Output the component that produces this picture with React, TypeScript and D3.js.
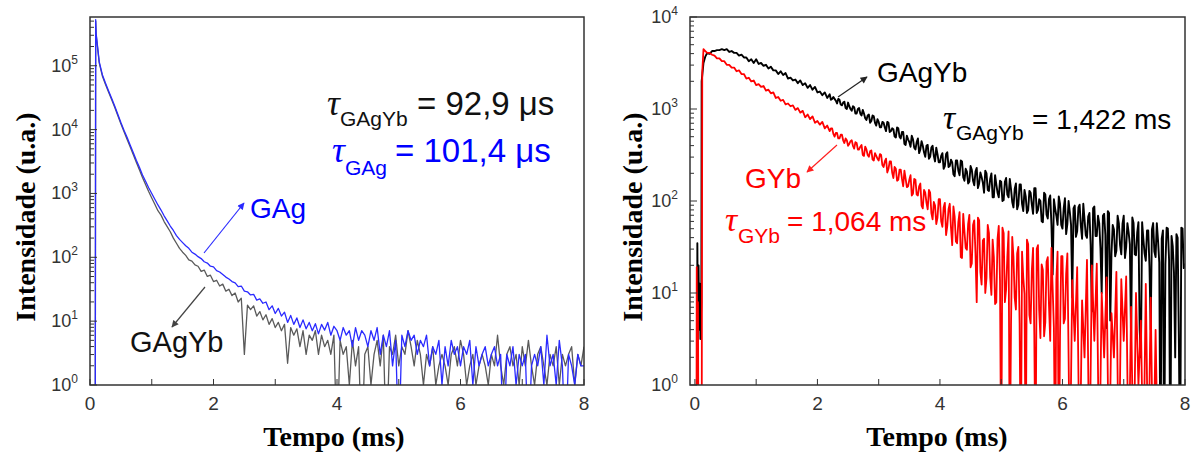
import React from "react";
import * as d3 from "d3";

// ---------- DATA (log10 of intensity) ----------
// Left panel: GAg (blue) and GAgYb (grey); grid starts at 0.10 ms, step 0.05 ms
const leftT0 = 0.1;
const leftStep = 0.05;
const gagHead: [number, number][] = [[0.085, -1], [0.092, 5.72]];
const gagLog = [
  5.50, 5.06, 4.86, 4.73, 4.61, 4.49, 4.37, 4.24, 4.11, 3.99, 3.88, 3.76, 3.64, 3.52, 3.41, 3.29, 3.19, 3.09,
  3.00, 2.91, 2.82, 2.74, 2.65, 2.57, 2.49, 2.42, 2.34, 2.28, 2.23, 2.18, 2.14, 2.08, 2.05, 2.01, 1.98, 1.93, 1.91, 1.86,
  1.85, 1.79, 1.77, 1.73, 1.69, 1.66, 1.62, 1.60, 1.54, 1.55, 1.47, 1.46, 1.41, 1.42, 1.33, 1.35, 1.28, 1.30, 1.18, 1.24,
  1.12, 1.20, 1.08, 1.14, 0.98, 1.09, 0.95, 1.05, 0.90, 1.02, 0.88, 0.98, 0.85, 0.96, 0.80, 0.95, 0.86, 0.98, 0.78, 0.92,
  0.85, 0.70, 0.90, 0.78, 0.85, 0.60, 0.90, 0.70, 0.85, 0.78, 0.60, 0.85, 0.70, 0.90, 0.48, 0.78, 0.60, 0.85, 0.30, 0.70,
  -1, 0.78, 0.60, 0.85, 0.70, 0.78, 0.48, 0.70, 0.60, 0.78, 0.30, 0.60, 0.48, 0.70, 0.00, 0.60, 0.30, 0.70, 0.48, 0.60,
  0.30, 0.60, 0.48, 0.70, 0.00, 0.60, 0.30, 0.48, 0.60, 0.30, 0.48, 0.60, 0.30, 0.48, -1, 0.48, 0.30, 0.60, 0.00, 0.48,
  0.30, 0.48, -1, 0.30, 0.48, 0.30, 0.60, 0.00, 0.78, 0.30, 0.48, 0.00, 0.70, 0.30, -1, 0.48, 0.30, 0.00, 0.48, 0.30,
  0.30,
];
const gagybLeftHead: [number, number][] = [[0.085, -1], [0.092, 5.70]];
const gagybLeftLog = [
  5.48, 5.04, 4.84, 4.71, 4.59, 4.47, 4.35, 4.22, 4.09, 3.97, 3.85, 3.73, 3.61, 3.49, 3.37, 3.25, 3.14, 3.03,
  2.93, 2.83, 2.73, 2.66, 2.56, 2.48, 2.40, 2.30, 2.22, 2.14, 2.08, 2.03, 1.96, 1.94, 1.88, 1.86, 1.78, 1.80, 1.70, 1.72,
  1.62, 1.64, 1.55, 1.58, 1.47, 1.50, 1.40, 1.44, 1.30, 1.36, 0.48, 1.25, 1.18, 1.24, 1.08, 1.15, 1.02, 1.10, 0.95, 1.04,
  0.90, 0.98, 0.85, 0.95, 0.34, 0.90, 0.78, 0.88, 0.60, 0.85, 0.48, 0.78, 0.70, 0.85, 0.48, 0.78, 0.60, 0.70, 0.48, 0.78,
  -1, 0.70, 0.48, 0.60, 0.00, 0.70, 0.30, 0.60, -1, 0.48, 0.60, 0.00, 0.48, 0.70, 0.30, 0.78, -1, 0.60, 0.48, 0.78,
  0.30, 0.60, 0.48, 0.85, 0.60, 0.30, 0.70, 0.48, 0.00, 0.48, 0.30, 0.60, 0.00, 0.30, 0.48, 0.30, 0.00, 0.48, 0.60, 0.30,
  0.70, 0.48, 0.00, 0.30, 0.48, 0.00, 0.30, 0.48, 0.30, 0.00, 0.48, 0.30, 0.78, 0.30, 0.00, 0.48, 0.60, 0.30, 0.48, 0.00,
  0.60, 0.30, 0.70, 0.30, 0.00, 0.48, 0.60, 0.30, 0.00, 0.48, 0.30, 0.60, 0.00, 0.48, 0.30, 0.48, 0.60, 0.00, 0.48, 0.30,
  0.60,
];

// Right panel: GAgYb (black) and GYb (red); main grid starts at 0.20 ms, step 0.04 ms;
// extra readings in the noisy part sit between grid points (start 2.22 ms, same step)
const rightT0 = 0.2;
const rightStep = 0.04;
const rightMidT0 = 2.22;
const gagybRightHead: [number, number][] = [
  [0.0, -1], [0.035, -1], [0.04, 1.54], [0.05, 0.49], [0.06, 1.3], [0.07, 0.6], [0.08, 1.1],
  [0.09, 0.5], [0.105, 0.9], [0.11, 3.3], [0.14, 3.5], [0.17, 3.57],
];
const gagybRightLog = [
  3.61, 3.60, 3.63, 3.63, 3.64, 3.64, 3.65, 3.64, 3.65, 3.62, 3.63, 3.61, 3.61, 3.58, 3.59, 3.56, 3.56, 3.52, 3.54, 3.50,
  3.54, 3.49, 3.50, 3.47, 3.48, 3.44, 3.46, 3.42, 3.42, 3.38, 3.41, 3.37, 3.39, 3.33, 3.34, 3.31, 3.32, 3.28, 3.31, 3.26,
  3.28, 3.23, 3.26, 3.21, 3.24, 3.18, 3.19, 3.15, 3.18, 3.12, 3.16, 3.11, 3.11, 3.06, 3.10, 3.04, 3.08, 3.00, 3.03, 2.98,
  3.02, 2.95, 3.01, 2.93, 2.95, 2.88, 2.94, 2.87, 2.92, 2.82, 2.86, 2.80, 2.85, 2.76, 2.85, 2.76, 2.78, 2.69, 2.79, 2.68,
  2.75, 2.61, 2.67, 2.59, 2.67, 2.56, 2.68, 2.56, 2.60, 2.48, 2.61, 2.48, 2.60, 2.43, 2.51, 2.42, 2.52, 2.38, 2.53, 2.38,
  2.42, 2.27, 2.44, 2.28, 2.43, 2.22, 2.32, 2.21, 2.34, 2.17, 2.36, 2.19, 2.26, 2.09, 2.30, 2.11, 2.30, 2.04, 2.18, 2.04,
  2.21, 2.01, 2.25, 2.04, 2.13, 1.93, 2.19, 1.96, 2.18, 1.89, 2.05, 1.90, 2.09, 1.86, 2.14, 1.90, 2.00, 1.77, 2.07, 1.81,
  2.06, 1.20, 1.92, 1.74, 1.97, 1.70, 2.03, 1.75, 1.88, 0.95, 1.95, 1.67, 1.96, 1.59, 1.80, 1.60, 1.87, 0.80, 1.94, 1.62,
  1.76, 1.00, 1.86, 0.62, 1.87, 1.43, 1.69, 1.46, 1.76, 1.42, 1.84, 1.50, 1.66, 0.48, 1.76, 1.41, 1.77, 0.30, 1.59, 1.35,
  1.68, 0.60, 1.76, 1.39, 1.57, -1, 1.68, 1.31, 1.70, -1, 1.51, 0.30, 1.60, -1, 1.70, 1.32,
];
const gagybRightMidLog = [
  3.10, 3.13, 3.09, 3.11, 3.05, 3.07, 3.01, 3.07, 3.00, 3.03,
  2.95, 3.00, 2.95, 2.99, 2.90, 2.93, 2.85, 2.93, 2.85, 2.89,
  2.80, 2.86, 2.80, 2.86, 2.75, 2.79, 2.70, 2.80, 2.70, 2.75,
  2.62, 2.71, 2.64, 2.71, 2.58, 2.64, 2.52, 2.65, 2.53, 2.60,
  2.46, 2.58, 2.49, 2.58, 2.42, 2.49, 2.35, 2.51, 2.37, 2.45,
  2.29, 2.44, 2.33, 2.44, 2.26, 2.35, 2.19, 2.38, 2.22, 2.32,
  2.14, 2.31, 2.20, 2.33, 2.12, 2.24, 2.04, 2.28, 2.09, 2.22,
  2.00, 2.21, 2.07, 2.24, 1.99, 2.13, 1.91, 2.18, 1.97, 2.12,
  1.87, 2.11, 1.96, 2.14, 1.87, 2.02, 1.78, 2.09, 1.85, 2.02,
  1.74, 2.02, 1.84, 2.05, 1.74, 1.92, 1.64, 2.00, 1.74, 1.92,
  1.61, 1.93, 1.73, 1.97, 1.63, 1.83, 1.52, 1.92, 1.62, 1.84,
  1.49, 1.84, 1.63, 1.89, 0.70, 1.74, 1.40, 1.84, 1.52, 1.75,
  1.38, 1.76, 1.53, 1.82, 1.42, 1.66, 0.60, 1.77, 1.43, 1.68,
  1.29, 1.69, 1.45, 1.76, 1.33, 1.59, -1, 1.71, 1.36, 1.62,
  1.22, 1.64, 0.48, 1.71, 1.27,
];
const gybHead: [number, number][] = [
  [0.0, -1], [0.025, -1], [0.03, 1.28], [0.04, 0.3], [0.05, 0.9], [0.06, -1], [0.11, -1],
  [0.12, 3.4], [0.14, 3.65], [0.17, 3.63],
];
const gybLog = [
  3.61, 3.61, 3.59, 3.58, 3.55, 3.55, 3.52, 3.52, 3.48, 3.48, 3.45, 3.45, 3.41, 3.42, 3.38, 3.38, 3.33, 3.34, 3.30, 3.31,
  3.26, 3.27, 3.24, 3.25, 3.20, 3.21, 3.17, 3.18, 3.12, 3.13, 3.09, 3.10, 3.05, 3.06, 3.03, 3.04, 2.99, 3.01, 2.96, 2.98,
  2.91, 2.94, 2.89, 2.92, 2.85, 2.87, 2.83, 2.86, 2.79, 2.82, 2.76, 2.79, 2.70, 2.74, 2.68, 2.72, 2.63, 2.66, 2.62, 2.66,
  2.57, 2.63, 2.56, 2.61, 2.49, 2.56, 2.48, 2.55, 2.44, 2.49, 2.44, 2.50, 2.37, 2.46, 2.35, 2.43, 2.25, 2.35, 2.23, 2.34,
  2.16, 2.24, 2.16, 2.28, 2.08, 2.23, 2.06, 2.19, 1.92, 2.09, 1.91, 2.09, 1.80, 1.95, 1.82, 2.02, 1.72, 1.98, 1.73, 1.97,
  1.52, 1.83, 1.54, 1.88, 1.38, 1.67, 1.47, 1.85, 1.32, 1.79, 0.90, 1.79, 1.09, 1.59, 1.16, 1.65, 0.98, 1.39, 0.90, 1.73,
  -1, 1.65, 1.04, 1.67, 0.65, 1.39, 0.82, 1.50, -1, 1.17, -1, 1.53, 0.67, 1.49, -1, 1.52, 0.51, 1.25, 0.68, 1.39,
  0.48, 1.05, -1, 1.45, 0.53, 1.40, 0.72, 1.43, -1, 1.14, 0.48, 1.28, -1, 0.92, 0.30, 1.36, -1, 1.30, 0.48, 1.32,
  -1, 1.00, 0.30, 1.17, -1, 0.78, 0.30, 1.23, -1, 1.15, 0.48, 1.18, -1, 0.85, -1, 1.00, 0.00, 0.70, -1, 1.10,
  -1, 0.95, -1, 0.60, -1, -1, -1, -1, -1, -1, -1, -1, -1, -1, -1, -1,
];
const gybMidLog = [
  2.79, 2.73, 2.74, 2.68, 2.72, 2.66, 2.68, 2.60, 2.65, 2.60,
  2.64, 2.56, 2.59, 2.50, 2.59, 2.50, 2.54, 2.45, 2.52, 2.46,
  2.51, 2.39, 2.43, 2.31, 2.43, 2.31, 2.37, 2.22, 2.34, 2.24,
  2.33, 2.15, 2.23, 2.06, 2.24, 2.07, 2.16, 1.95, 2.12, 1.98,
  2.12, 1.87, 1.99, 1.75, 2.02, 1.78, 1.93, 1.63, 1.91, 1.71,
  1.94, 1.56, 1.77, 1.39, 1.86, 1.49, 1.75, 1.28, 1.74, 1.43,
  1.82, 1.23, 1.57, 1.00, 1.74, 1.17, 1.58, 0.88, 1.59, 1.14,
  1.71, 0.90, 1.39, -1, 1.61, 0.95, 1.43, 0.67, 1.45, 0.99,
  1.58, 0.76, 1.25, 0.54, 1.48, 0.81, 1.31, 0.53, 1.34, 0.86,
  1.49, 0.62, 1.15, -1, 1.40, 0.67, 1.21, 0.30,
];

// Axes
const xTickValues = [0, 1, 2, 3, 4, 5, 6, 7, 8];
const xTickLabels = [0, 2, 4, 6, 8];
const leftYDomain: [number, number] = [1, 5.8e5];
const rightYDomain: [number, number] = [1, 1e4];
const leftXDomain: [number, number] = [0, 8];
const rightXDomain: [number, number] = [-0.08, 8];
const xTitle = "Tempo (ms)";
const yTitle = "Intensidade (u.a.)";

// ---------- helpers ----------
type Pt = { t: number; v: number };
function buildSeries(
  head: [number, number][], t0: number, step: number, logs: number[],
  midT0?: number, midLogs?: number[]
): Pt[] {
  const a: Pt[] = head.map(([t, l]) => ({ t, v: Math.pow(10, l) }));
  logs.forEach((l, i) => a.push({ t: t0 + i * step, v: Math.pow(10, l) }));
  if (midLogs && midT0 !== undefined) {
    midLogs.forEach((l, i) => a.push({ t: midT0 + i * step, v: Math.pow(10, l) }));
  }
  return a.sort((p, q) => p.t - q.t);
}

const SANS = "'Liberation Sans', Arial, Helvetica, sans-serif";
const SERIF = "'Liberation Serif', 'Times New Roman', Times, serif";

type LineSpec = { data: Pt[]; color: string; width: number };

function Panel(props: {
  id: string;
  left: number; right: number; top: number; bottom: number;
  xDom: [number, number]; yDom: [number, number];
  lines: LineSpec[];
  yTitleX: number; xTitleX: number;
}) {
  const { id, left, right, top, bottom, xDom, yDom, lines } = props;
  const x = d3.scaleLinear().domain(xDom).range([left, right]);
  const y = d3.scaleLog().domain(yDom).range([bottom, top]);
  const line = d3.line<Pt>().x((d) => x(d.t)).y((d) => y(d.v));
  const yTicks = y.ticks().filter((v) => v >= yDom[0] && v <= yDom[1]);
  const isMajor = (v: number) => Math.abs(Math.log10(v) - Math.round(Math.log10(v))) < 1e-9;
  return (
    <g>
      <defs>
        <clipPath id={`clip-${id}`}>
          <rect x={left} y={top} width={right - left} height={bottom - top} />
        </clipPath>
      </defs>
      <g clipPath={`url(#clip-${id})`}>
        {lines.map((l, i) => (
          <path key={i} d={line(l.data) || ""} fill="none" stroke={l.color} strokeWidth={l.width} strokeLinejoin="round" />
        ))}
      </g>
      {yTicks.map((v, i) => (
        <line key={`yt${i}`} x1={left} x2={left + (isMajor(v) ? 7 : 4)} y1={y(v)} y2={y(v)} stroke="#333" strokeWidth={1} />
      ))}
      {yTicks.filter(isMajor).map((v, i) => (
        <text key={`yl${i}`} x={left - 12} y={y(v) + 6} textAnchor="end" fontFamily={SANS} fontSize={18} fill="#333">
          10<tspan dy={-8} fontSize={12}>{Math.round(Math.log10(v))}</tspan>
        </text>
      ))}
      {xTickValues.map((v) => (
        <line key={`xt${v}`} x1={x(v)} x2={x(v)} y1={bottom} y2={bottom - 6} stroke="#333" strokeWidth={1} />
      ))}
      {xTickLabels.map((v) => (
        <text key={`xl${v}`} x={x(v)} y={bottom + 25} textAnchor="middle" fontFamily={SANS} fontSize={19} fill="#333">
          {v}
        </text>
      ))}
      <rect x={left} y={top} width={right - left} height={bottom - top} fill="none" stroke="#333" strokeWidth={1.5} />
      <text transform={`translate(${props.yTitleX},217) rotate(-90)`} textAnchor="middle" fontFamily={SERIF} fontWeight="bold" fontSize={28} fill="#000">
        {yTitle}
      </text>
      <text x={props.xTitleX} y={446} textAnchor="middle" fontFamily={SERIF} fontWeight="bold" fontSize={28} fill="#000">
        {xTitle}
      </text>
    </g>
  );
}

function Arrow({ x1, y1, x2, y2, color, id }: { x1: number; y1: number; x2: number; y2: number; color: string; id: string }) {
  return (
    <g>
      <defs>
        <marker id={id} viewBox="0 0 10 10" refX="9" refY="5" markerWidth="9" markerHeight="7" orient="auto" markerUnits="userSpaceOnUse">
          <path d="M0,0 L10,5 L0,10 z" fill={color} />
        </marker>
      </defs>
      <line x1={x1} y1={y1} x2={x2} y2={y2} stroke={color} strokeWidth={1.2} markerEnd={`url(#${id})`} />
    </g>
  );
}

function Tau({ x, y, sub, subDx, subDy, rest, restX, color, size, subSize, tauSize }: any) {
  return (
    <g fill={color}>
      <text x={x} y={y} fontFamily={SERIF} fontStyle="italic" fontSize={tauSize}>τ</text>
      <text x={x + subDx} y={y + subDy} fontFamily={SANS} fontSize={subSize}>{sub}</text>
      <text x={restX} y={y} fontFamily={SANS} fontSize={size}>{rest}</text>
    </g>
  );
}

export default function App() {
  const gag = buildSeries(gagHead, leftT0, leftStep, gagLog);
  const gagybL = buildSeries(gagybLeftHead, leftT0, leftStep, gagybLeftLog);
  const gagybR = buildSeries(gagybRightHead, rightT0, rightStep, gagybRightLog, rightMidT0, gagybRightMidLog);
  const gyb = buildSeries(gybHead, rightT0, rightStep, gybLog, rightMidT0, gybMidLog);
  return (
    <div style={{ position: "absolute", left: 0, top: 0 }}>
      <svg width={1194} height={461} viewBox="0 0 1194 461" style={{ display: "block", background: "#fff" }}>
        <rect x={0} y={0} width={1194} height={461} fill="#fff" />
        <Panel
          id="L" left={90} right={584} top={17} bottom={385}
          xDom={leftXDomain} yDom={leftYDomain}
          lines={[
            { data: gagybL, color: "#5a5a5a", width: 1.3 },
            { data: gag, color: "#2a2aff", width: 1.3 },
          ]}
          yTitleX={35} xTitleX={334}
        />
        <Panel
          id="R" left={690} right={1185} top={17} bottom={385}
          xDom={rightXDomain} yDom={rightYDomain}
          lines={[
            { data: gagybR, color: "#000", width: 1.9 },
            { data: gyb, color: "#ff0000", width: 1.8 },
          ]}
          yTitleX={642} xTitleX={937}
        />
        {/* left annotations */}
        <Tau x={327} y={115} sub="GAgYb" subDx={13} subDy={11} rest="= 92,9 μs" restX={417} color="#111" size={33} subSize={21} tauSize={36} />
        <Tau x={332} y={162} sub="GAg" subDx={13} subDy={13} rest="= 101,4 μs" restX={395} color="#0000ff" size={33} subSize={21} tauSize={36} />
        <text x={250} y={218} fontFamily={SANS} fontSize={28} fill="#0000ff">GAg</text>
        <Arrow id="mBlue" x1={204} y1={253} x2={244} y2={203} color="#2a2aff" />
        <text x={130} y={352} fontFamily={SANS} fontSize={29} fill="#111">GAgYb</text>
        <Arrow id="mGrey" x1={205} y1={287} x2={172} y2={327} color="#444" />
        {/* right annotations */}
        <text x={877} y={82} fontFamily={SANS} fontSize={28} fill="#000">GAgYb</text>
        <Arrow id="mBlack" x1={838} y1={97} x2={867} y2={77} color="#222" />
        <Tau x={943} y={129} sub="GAgYb" subDx={13} subDy={11} rest="= 1,422 ms" restX={1032} color="#000" size={28} subSize={21} tauSize={34} />
        <text x={745} y={188} fontFamily={SANS} fontSize={28} fill="#ff0000">GYb</text>
        <Arrow id="mRed" x1={837} y1={145} x2={807} y2={172} color="#ff2020" />
        <Tau x={725} y={231} sub="GYb" subDx={13} subDy={12} rest="= 1,064 ms" restX={787} color="#ff0000" size={28} subSize={21} tauSize={34} />
      </svg>
    </div>
  );
}
